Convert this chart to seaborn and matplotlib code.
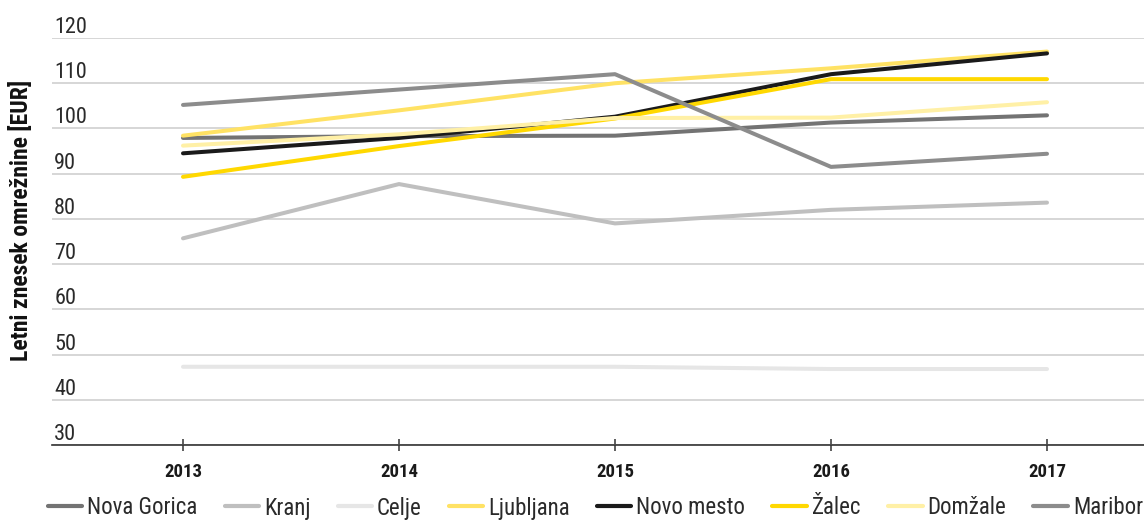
import matplotlib
matplotlib.use("Agg")
import matplotlib.pyplot as plt
import matplotlib.font_manager as fm
from matplotlib.lines import Line2D
import pandas as pd
import seaborn as sns

years = [2013, 2014, 2015, 2016, 2017]
cities = ["Nova Gorica", "Kranj", "Celje", "Ljubljana",
          "Novo mesto", "Žalec", "Domžale", "Maribor"]

nova_gorica = [97.9, 98.3, 98.4, 101.3, 102.9]
kranj = [75.7, 87.7, 79.0, 82.0, 83.6]
celje = [47.3, 47.3, 47.3, 46.8, 46.8]
ljubljana = [98.4, 104.0, 110.0, 113.3, 117.0]
novo_mesto = [94.5, 97.9, 102.6, 112.0, 116.6]
zalec = [89.3, 96.1, 102.2, 110.9, 110.9]
domzale = [96.2, 98.7, 102.3, 102.4, 105.8]
maribor = [105.2, 108.6, 112.0, 91.5, 94.4]

y_ticks = [30, 40, 50, 60, 70, 80, 90, 100, 110, 120]

colors = ["#737373", "#bfbfbf", "#e6e6e6", "#ffe264",
          "#1a1a1a", "#ffd800", "#fff0a6", "#8c8c8c"]

series = [nova_gorica, kranj, celje, ljubljana,
          novo_mesto, zalec, domzale, maribor]

rows = []
for city, vals in zip(cities, series):
    for yr, v in zip(years, vals):
        rows.append({"year": yr, "city": city, "value": v})
df = pd.DataFrame(rows)

sns.set_theme(style="white")

installed = {f.name for f in fm.fontManager.ttflist}
font = "DejaVu Sans"
for cand in ["Roboto Condensed", "Liberation Sans Narrow", "Open Sans Condensed"]:
    if cand in installed:
        font = cand
        break
plt.rcParams["font.family"] = [font, "DejaVu Sans"]

fig = plt.figure(figsize=(11.44, 5.2), dpi=100)
ax = fig.add_axes([52 / 1144, 75 / 520, 1 - 52 / 1144, (445 - 38) / 520])

palette = dict(zip(cities, colors))
sns.lineplot(
    data=df, x="year", y="value", hue="city",
    hue_order=cities, palette=palette,
    linewidth=2.9, ax=ax, legend=False,
    solid_capstyle="round"
)

ax.set_xlim(2013 - 131 / 216, 2017 + 97 / 216)
ax.set_ylim(30, 120)
ax.set_yticks(y_ticks)
ax.set_yticklabels([])
ax.tick_params(axis="y", length=0)
ax.yaxis.grid(True, color="#d0d0d0", linewidth=1.2)
ax.set_axisbelow(True)

for s in ["top", "right", "left"]:
    ax.spines[s].set_visible(False)
ax.spines["bottom"].set_color("#333333")
ax.spines["bottom"].set_linewidth(1.2)

ax.set_xticks(years)
ax.set_xticklabels([str(y) for y in years], fontweight="bold", fontsize=13.5,
                   color="#1a1a1a")
ax.tick_params(axis="x", direction="inout", length=8, width=1.1,
               color="#333333", pad=9, bottom=True)
ax.set_xlabel("")
ax.set_ylabel("")

for v in y_ticks:
    ax.text(0.002, v, str(v), transform=ax.get_yaxis_transform(),
            ha="left", va="bottom", fontsize=16, color="#2a2a2a")

fig.text(21 / 1144, 1 - 220 / 520, "Letni znesek omrežnine [EUR]",
         rotation=90, ha="center", va="center", fontsize=17,
         fontweight="bold", color="#111111")

handles = [Line2D([0], [0], color=c, linewidth=3) for c in colors]
fig.legend(handles, cities, loc="center left",
           bbox_to_anchor=(48 / 1144, 1 - 508 / 520), ncol=8,
           frameon=False, fontsize=16.5, handlelength=1.5,
           handletextpad=0.22, columnspacing=1.18, borderpad=0,
           borderaxespad=0, labelcolor="#2a2a2a")

fig.savefig("out.png", dpi=100)
